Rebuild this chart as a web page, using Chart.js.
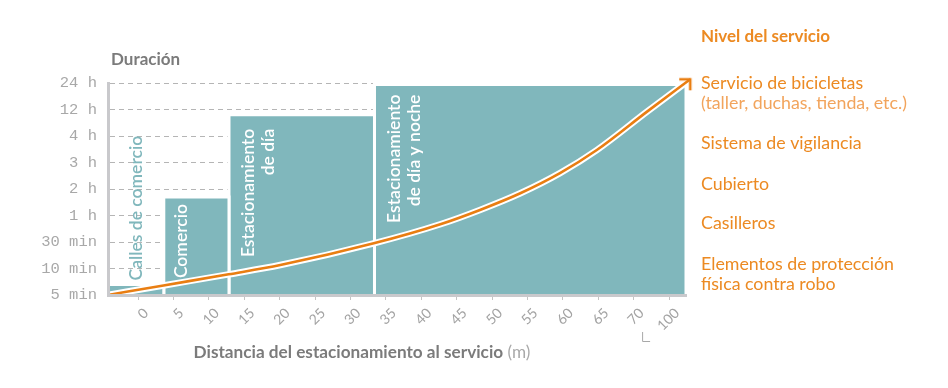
<!DOCTYPE html>
<html>
<head>
<meta charset="utf-8">
<script src="https://cdn.jsdelivr.net/npm/chart.js@4.4.1/dist/chart.umd.min.js"></script>
<style>
  html, body { margin: 0; padding: 0; background: #fff; }
  #wrap { width: 948px; height: 388px; }
</style>
</head>
<body>
<div id="wrap"><canvas id="myChart" width="948" height="388"></canvas></div>
<script>
// y axis: duration levels (index 0..8)
const durationLabels = ["5 min", "10 min", "30 min", "1 h", "2 h", "3 h", "4 h", "12 h", "24 h"];

// x axis: distance ticks (axis position) and what is printed (broken axis: 75 -> 100)
const distanceTicks = [0, 5, 10, 15, 20, 25, 30, 35, 40, 45, 50, 55, 60, 65, 70, 75];
const distanceLabels = ["0", "5", "10", "15", "20", "25", "30", "35", "40", "45", "50", "55", "60", "65", "70", "100"];

// zones (bars of varying width)
const zoneNames = [["Calles de comercio"], ["Comercio"], ["Estacionamiento", "de día"], ["Estacionamiento", "de día y noche"]];
const zoneStart = [-4.24, 3.64, 12.85, 33.4];
const zoneEnd = [3.64, 12.85, 33.4, 77.4];
const zoneDuration = [0.4, 3.7, 6.8, 7.94];

// service level curve
const curveDistance = [-4.24, 3.6, 12.8, 20.1, 33.3, 42.7, 48.3, 54.0, 59.6, 64.8, 71.9, 78.0];
const curveLevel = [0, 0.36, 0.78, 1.13, 1.95, 2.67, 3.21, 3.84, 4.60, 5.47, 6.92, 8.14];

// legend on the right
const serviceTitle = "Nivel del servicio";
const serviceLevels = [
  ["Servicio de bicicletas", "(taller, duchas, tienda, etc.)"],
  ["Sistema de vigilancia"],
  ["Cubierto"],
  ["Casilleros"],
  ["Elementos de protección", "física contra robo"]
];

const teal = "#80b7bc";
const orange = "#e97e12";
const legendOrange = "#ec8a22";
const lightOrange = "#f2a45c";
const grey = "#7b7b7b";

// arrow head image for the last curve point
const arrow = document.createElement("canvas");
arrow.width = 30;
arrow.height = 30;
(function () {
  const c = arrow.getContext("2d");
  c.strokeStyle = orange;
  c.lineWidth = 2.6;
  c.beginPath();
  c.moveTo(4, 15);
  c.lineTo(15, 15);
  c.lineTo(15, 26);
  c.stroke();
})();

const zoneLabelStyle = [
  { dx: 34, dy: 4, align: "left", color: teal },
  { dx: 23, dy: 7, align: "right", color: "#fff" },
  { dx: 24.6, dy: 14, align: "right", color: "#fff" },
  { dx: 25.3, dy: 10, align: "right", color: "#fff" }
];

// bar texts go on top of the bars but under the curve
const zoneLabels = {
  id: "zoneLabels",
  afterDatasetDraw(chart, args) {
    if (args.index !== 0) return;
    const { ctx, scales: { x, y } } = chart;
    ctx.save();
    ctx.font = "600 17.5px Lato";
    ctx.textBaseline = "alphabetic";
    zoneNames.forEach((lines, i) => {
      const left = x.getPixelForValue(zoneStart[i]);
      const top = y.getPixelForValue(zoneDuration[i]);
      const st = zoneLabelStyle[i];
      lines.forEach((line, k) => {
        ctx.save();
        ctx.translate(left + st.dx + k * 20.5, st.align === "left" ? top - st.dy : top + st.dy);
        ctx.rotate(-Math.PI / 2);
        ctx.textAlign = st.align;
        ctx.fillStyle = st.color;
        ctx.fillText(line, 0, 0);
        ctx.restore();
      });
    });
    ctx.restore();
  }
};

const extraText = {
  id: "extraText",
  afterDraw(chart) {
    const { ctx, scales: { x } } = chart;
    ctx.save();
    ctx.textBaseline = "alphabetic";
    ctx.textAlign = "left";

    // y title
    ctx.fillStyle = grey;
    ctx.font = "bold 17px Lato";
    ctx.fillText("Duración", 111, 65);

    // x title
    const main = "Distancia del estacionamiento al servicio";
    ctx.font = "bold 17.2px Lato";
    const w1 = ctx.measureText(main).width;
    ctx.font = "17.2px Lato";
    const w2 = ctx.measureText(" (m)").width;
    const sx = 362 - (w1 + w2) / 2;
    ctx.font = "bold 17.2px Lato";
    ctx.fillStyle = grey;
    ctx.fillText(main, sx, 358);
    ctx.font = "17.2px Lato";
    ctx.fillStyle = "#a9a9a9";
    ctx.fillText(" (m)", sx + w1, 358);

    // axis break mark
    const bx = x.getPixelForValue(71.2);
    ctx.strokeStyle = "#a8a8a8";
    ctx.lineWidth = 1;
    ctx.beginPath();
    ctx.moveTo(bx + 0.5, 332);
    ctx.lineTo(bx + 0.5, 341.5);
    ctx.lineTo(bx + 8, 341.5);
    ctx.stroke();

    // legend
    ctx.fillStyle = legendOrange;
    ctx.font = "bold 17px Lato";
    ctx.fillText(serviceTitle, 701, 42);
    const rowBase = [88.5, 149, 189.5, 229, 270];
    ctx.font = "17.8px Lato";
    serviceLevels.forEach((lines, i) => {
      lines.forEach((line, k) => {
        ctx.fillStyle = (i === 0 && k === 1) ? lightOrange : legendOrange;
        ctx.fillText(line, 701, rowBase[i] + k * 20.2);
      });
    });
    ctx.restore();
  }
};

const zoneSets = zoneNames.map((n, i) => ({
  label: n.join(" "),
  order: 10,
  data: [
    { x: zoneStart[i], y: 0 },
    { x: zoneStart[i], y: zoneDuration[i] },
    { x: zoneEnd[i], y: zoneDuration[i] },
    { x: zoneEnd[i], y: 0 }
  ],
  backgroundColor: teal,
  borderColor: "#fff",
  borderWidth: 3,
  fill: "origin",
  pointRadius: 0,
  tension: 0
}));

const curvePoints = curveDistance.map((d, i) => ({ x: d, y: curveLevel[i] }));
const lastIdx = curvePoints.length - 1;

const ctx = document.getElementById("myChart");

new Chart(ctx, {
  type: "line",
  data: {
    datasets: [
      ...zoneSets,
      {
        label: "halo",
        order: 2,
        data: curvePoints,
        borderColor: "#fff",
        borderWidth: 6.5,
        fill: false,
        pointRadius: 0,
        cubicInterpolationMode: "monotone",
        clip: false
      },
      {
        label: serviceTitle,
        order: 1,
        data: curvePoints,
        borderColor: orange,
        borderWidth: 2.6,
        fill: false,
        cubicInterpolationMode: "monotone",
        clip: false,
        pointStyle: (c) => c.dataIndex === lastIdx ? arrow : "circle",
        pointRadius: (c) => c.dataIndex === lastIdx ? 10 : 0,
        pointBorderWidth: 0
      }
    ]
  },
  options: {
    responsive: false,
    animation: false,
    events: [],
    layout: { padding: { top: 83, right: 262, left: 0, bottom: 0 } },
    plugins: { legend: { display: false }, tooltip: { enabled: false } },
    scales: {
      x: {
        type: "linear",
        min: -4.24,
        max: 77.4,
        afterBuildTicks: (s) => { s.ticks = distanceTicks.map(v => ({ value: v })); },
        afterFit: (s) => { s.height = 93; },
        ticks: {
          minRotation: 45,
          maxRotation: 45,
          padding: 5,
          labelOffset: 8,
          color: "#a3a3a3",
          font: { family: "Lato", size: 14 },
          callback: (v) => distanceLabels[distanceTicks.indexOf(v)]
        },
        grid: { drawOnChartArea: false, drawTicks: true, tickLength: 5, color: "#c4c4c4" },
        border: { display: true, color: "#c9c9cc", width: 3, z: 1 }
      },
      y: {
        type: "linear",
        min: 0,
        max: 8,
        afterBuildTicks: (s) => { s.ticks = durationLabels.map((l, i) => ({ value: i })); },
        afterFit: (s) => { s.width = 108; },
        ticks: {
          padding: 11,
          color: "#a8a8a8",
          font: { family: "Liberation Mono", size: 15.5 },
          callback: (v) => durationLabels[v]
        },
        grid: { drawTicks: false, color: "#b5b5b5", lineWidth: 1 },
        border: { display: true, color: "#c9c9cc", width: 3, dash: [5, 4], z: 1 }
      }
    }
  },
  plugins: [zoneLabels, extraText]
});
</script>
</body>
</html>
